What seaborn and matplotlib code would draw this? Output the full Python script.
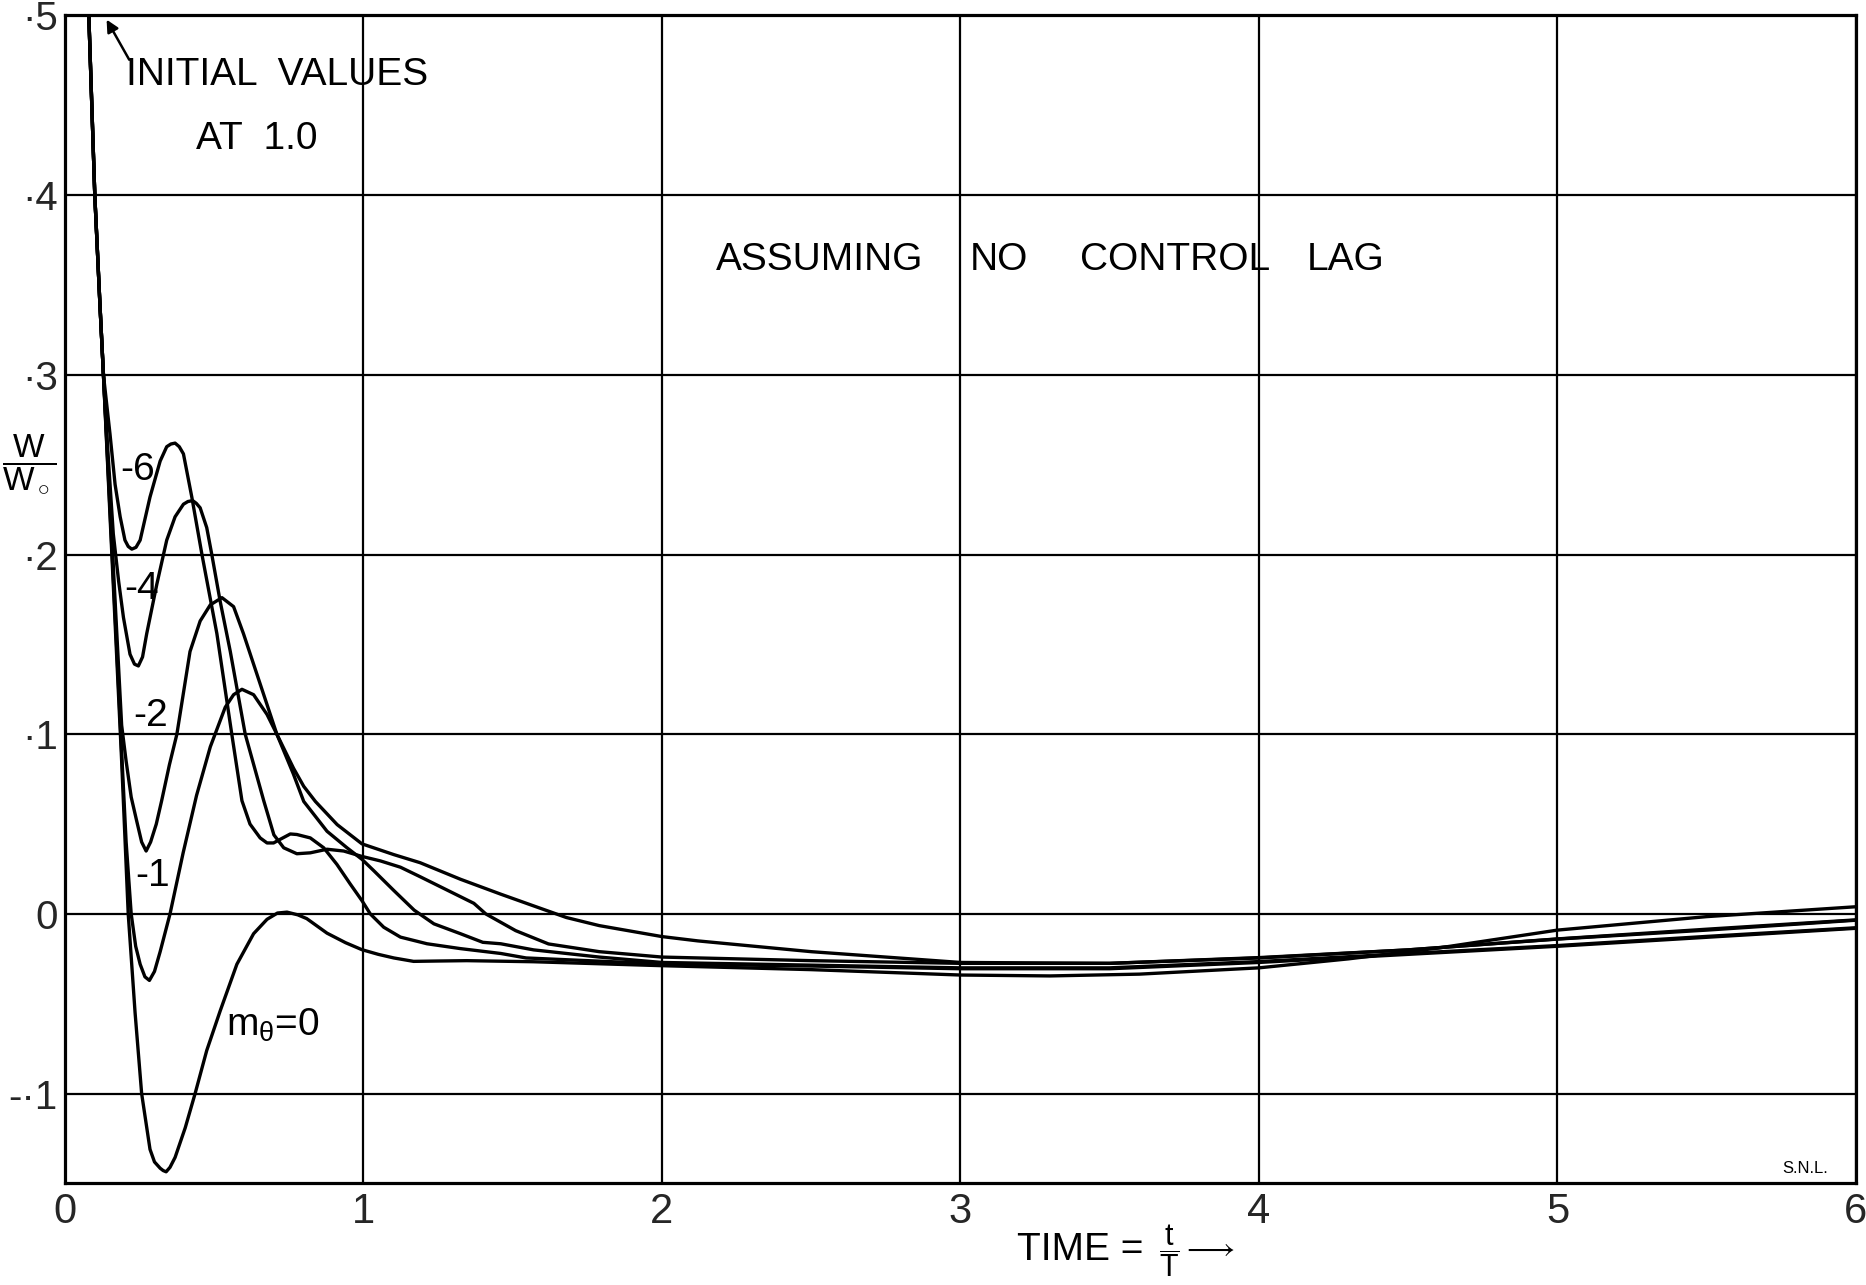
import numpy as np
import pandas as pd
import matplotlib
matplotlib.use("Agg")
import matplotlib.pyplot as plt
import seaborn as sns

# ---- response curves w/w0 against t/T for several pitch-damping values ----
# common initial drop from 1.0 (shared by all curves)
t_start = [0.0, 0.03, 0.06, 0.08, 0.10, 0.117, 0.129]
w_start = [1.0, 0.80, 0.62, 0.50, 0.40, 0.34, 0.30]

t_m6 = [0.151, 0.168, 0.185, 0.201, 0.212, 0.224, 0.238, 0.252, 0.285, 0.319,
        0.341, 0.355, 0.369, 0.383, 0.397, 0.425, 0.459, 0.509, 0.559, 0.593,
        0.62, 0.654, 0.677, 0.699, 0.721, 0.755, 0.777, 0.822, 0.867, 0.911,
        0.956, 0.995, 1.023, 1.068, 1.124, 1.213, 1.325, 1.46, 1.545, 2.0, 2.5,
        3.0, 3.5, 4.0, 4.5, 5.0, 5.5, 6.0]
w_m6 = [0.267, 0.239, 0.221, 0.208, 0.2045, 0.203, 0.204, 0.208, 0.232, 0.252,
        0.260, 0.2615, 0.262, 0.260, 0.256, 0.232, 0.200, 0.156, 0.100, 0.063,
        0.050, 0.0423, 0.0395, 0.0395, 0.0415, 0.0445, 0.0442, 0.0423, 0.0368, 0.0276,
        0.0166, 0.0074, 0.0, -0.0074, -0.0129, -0.0166, -0.0193, -0.022, -0.0245,
        -0.0278, -0.029, -0.0305, -0.0305, -0.027, -0.0225, -0.018, -0.013, -0.008]

t_m4 = [0.140, 0.162, 0.180, 0.196, 0.218, 0.233, 0.246, 0.260, 0.274, 0.308,
        0.341, 0.369, 0.397, 0.412, 0.428, 0.44, 0.453, 0.475, 0.492, 0.52,
        0.554, 0.604, 0.666, 0.70, 0.733, 0.777, 0.822, 0.878, 0.934, 0.995,
        1.057, 1.124, 1.19, 1.28, 1.37, 1.41, 1.51, 1.62, 1.79, 2.0, 2.5,
        3.0, 3.5, 4.0, 4.5, 5.0, 5.5, 6.0]
w_m4 = [0.267, 0.2115, 0.185, 0.165, 0.1445, 0.139, 0.138, 0.143, 0.156, 0.1836,
        0.208, 0.221, 0.228, 0.2295, 0.230, 0.2285, 0.226, 0.215, 0.200, 0.174,
        0.146, 0.100, 0.063, 0.044, 0.0368, 0.0335, 0.034, 0.036, 0.035, 0.032,
        0.0295, 0.026, 0.0207, 0.0133, 0.0059, 0.0, -0.0093, -0.0167, -0.021, -0.024,
        -0.026, -0.0275, -0.0275, -0.0245, -0.020, -0.014, -0.009, -0.0035]

t_m2 = [0.15, 0.17, 0.19, 0.205, 0.222, 0.24, 0.257, 0.272, 0.287, 0.306,
        0.324, 0.35, 0.375, 0.419, 0.453, 0.487, 0.526, 0.565, 0.598, 0.654,
        0.71, 0.765, 0.80, 0.878, 0.945, 0.995, 1.035, 1.102, 1.17, 1.236,
        1.325, 1.40, 1.46, 1.57, 1.79, 2.0, 2.5, 3.0, 3.5, 4.0, 4.5, 5.0,
        5.5, 6.0]
w_m2 = [0.232, 0.168, 0.105, 0.085, 0.065, 0.052, 0.040, 0.035, 0.040, 0.050,
        0.063, 0.083, 0.100, 0.146, 0.163, 0.172, 0.176, 0.171, 0.156, 0.128,
        0.100, 0.078, 0.0626, 0.046, 0.0368, 0.0304, 0.024, 0.013, 0.0021, -0.0055,
        -0.011, -0.0158, -0.0166, -0.020, -0.024, -0.027, -0.0285, -0.030, -0.030,
        -0.0265, -0.022, -0.0176, -0.0125, -0.0077]

t_m1 = [0.15, 0.17, 0.19, 0.205, 0.222, 0.237, 0.252, 0.268, 0.283, 0.30,
        0.319, 0.352, 0.396, 0.441, 0.487, 0.537, 0.565, 0.593, 0.632, 0.677,
        0.71, 0.766, 0.80, 0.839, 0.912, 0.995, 1.102, 1.19, 1.325, 1.46,
        1.568, 1.68, 1.79, 2.0, 2.12, 2.5, 3.0, 3.5, 4.0, 4.5, 5.0, 5.5, 6.0]
w_m1 = [0.228, 0.16, 0.09, 0.04, 0.0, -0.018, -0.028, -0.035, -0.037, -0.032,
        -0.021, 0.0, 0.034, 0.066, 0.093, 0.115, 0.122, 0.125, 0.122, 0.111,
        0.100, 0.081, 0.071, 0.0626, 0.0497, 0.039, 0.033, 0.0285, 0.0193, 0.011,
        0.0046, -0.002, -0.0065, -0.0126, -0.015, -0.021, -0.027, -0.0275, -0.0243,
        -0.020, -0.0139, -0.0085, -0.0033]

t_m0 = [0.15, 0.17, 0.19, 0.212, 0.235, 0.257, 0.285, 0.30, 0.319, 0.329,
        0.339, 0.352, 0.369, 0.403, 0.436, 0.475, 0.52, 0.576, 0.632, 0.677,
        0.712, 0.744, 0.78, 0.81, 0.878, 0.94, 0.995, 1.05, 1.102, 1.168,
        1.25, 1.346, 1.568, 2.0, 2.5, 3.0, 3.3, 3.6, 4.0, 4.3, 4.6, 5.0,
        5.5, 6.0]
w_m0 = [0.225, 0.155, 0.085, 0.0, -0.055, -0.100, -0.131, -0.138, -0.1415, -0.1428,
        -0.1435, -0.141, -0.1355, -0.119, -0.100, -0.076, -0.054, -0.028, -0.011, -0.003,
        0.0005, 0.001, -0.0005, -0.0026, -0.0107, -0.016, -0.0199, -0.0225, -0.0245,
        -0.0264, -0.0262, -0.026, -0.0266, -0.0288, -0.031, -0.034, -0.0345, -0.0335,
        -0.030, -0.025, -0.019, -0.009, -0.0015, 0.004]

curves = {
    "-6": (t_m6, w_m6),
    "-4": (t_m4, w_m4),
    "-2": (t_m2, w_m2),
    "-1": (t_m1, w_m1),
    "0": (t_m0, w_m0),
}

frames = []
for name, (tt, ww) in curves.items():
    frames.append(pd.DataFrame({"t": t_start + list(tt),
                                "w": w_start + list(ww),
                                "m": name}))
df = pd.concat(frames, ignore_index=True)

x_ticks = [0, 1, 2, 3, 4, 5, 6]
x_labels = ["0", "1", "2", "3", "4", "5", "6"]
y_ticks = [-0.1, 0.0, 0.1, 0.2, 0.3, 0.4, 0.5]
y_labels = ["-\u00b71", "0", "\u00b71", "\u00b72", "\u00b73", "\u00b74", "\u00b75"]

# ---- styling ----
sns.set_style("white")
plt.rcParams["font.family"] = ["Liberation Sans", "DejaVu Sans"]
plt.rcParams["mathtext.fontset"] = "custom"
plt.rcParams["mathtext.rm"] = "Liberation Sans"
plt.rcParams["mathtext.it"] = "Liberation Sans"

fig = plt.figure(figsize=(18.66, 12.85), dpi=100)
ax = fig.add_axes([0.0348, 0.079, 0.9598, 0.909])

sns.lineplot(data=df, x="t", y="w", hue="m", estimator=None, sort=False,
             palette={k: "black" for k in curves}, linewidth=2.4,
             legend=False, ax=ax, zorder=3)

ax.set_xlim(0, 6)
ax.set_ylim(-0.15, 0.5)
ax.set_xticks(x_ticks)
ax.set_xticklabels(x_labels, fontsize=30)
ax.set_yticks(y_ticks)
ax.set_yticklabels(y_labels, fontsize=29)
ax.tick_params(axis="both", length=0)
ax.tick_params(axis="x", pad=6)
ax.tick_params(axis="y", pad=5)
ax.set_xlabel("")
ax.set_ylabel("")
ax.grid(True, color="black", linewidth=1.6, zorder=1)
ax.set_axisbelow(True)
for sp in ax.spines.values():
    sp.set_color("black")
    sp.set_linewidth(2.3)

# ---- annotations ----
txt = dict(color="black", fontsize=28)
ax.text(0.205, 0.467, "INITIAL  VALUES", ha="left", va="center", **txt)
ax.text(0.44, 0.431, "AT  1.0", ha="left", va="center", **txt)
ax.annotate("", xy=(0.135, 0.499), xytext=(0.22, 0.474),
            arrowprops=dict(arrowstyle="-|>", color="black", lw=1.8,
                            mutation_scale=18))

for word, xpos in [("ASSUMING", 2.18), ("NO", 3.03), ("CONTROL", 3.40), ("LAG", 4.16)]:
    ax.text(xpos, 0.364, word, ha="left", va="center", **txt)

ax.text(0.185, 0.247, "-6", ha="left", va="center", **txt)
ax.text(0.20, 0.181, "-4", ha="left", va="center", **txt)
ax.text(0.23, 0.110, "-2", ha="left", va="center", **txt)
ax.text(0.235, 0.021, "-1", ha="left", va="center", **txt)
ax.text(0.54, -0.062, r"m$_\theta$=0", ha="left", va="center", **txt)

ax.text(5.83, -0.146, "S.N.L.", ha="center", va="bottom", fontsize=12,
        color="black")

# axis titles
ax.text(-0.12, 0.25, r"$\dfrac{\mathrm{W}}{\mathrm{W}_\circ}$", ha="center",
        va="center", fontsize=24, color="black", clip_on=False)
fig.text(0.545, 0.027, "TIME =", ha="left", va="center", fontsize=28,
         color="black")
fig.text(0.621, 0.027, r"$\dfrac{\mathrm{t}}{\mathrm{T}}\longrightarrow$",
         ha="left", va="center", fontsize=22, color="black")

fig.savefig("out.png", dpi=100, facecolor="white")
